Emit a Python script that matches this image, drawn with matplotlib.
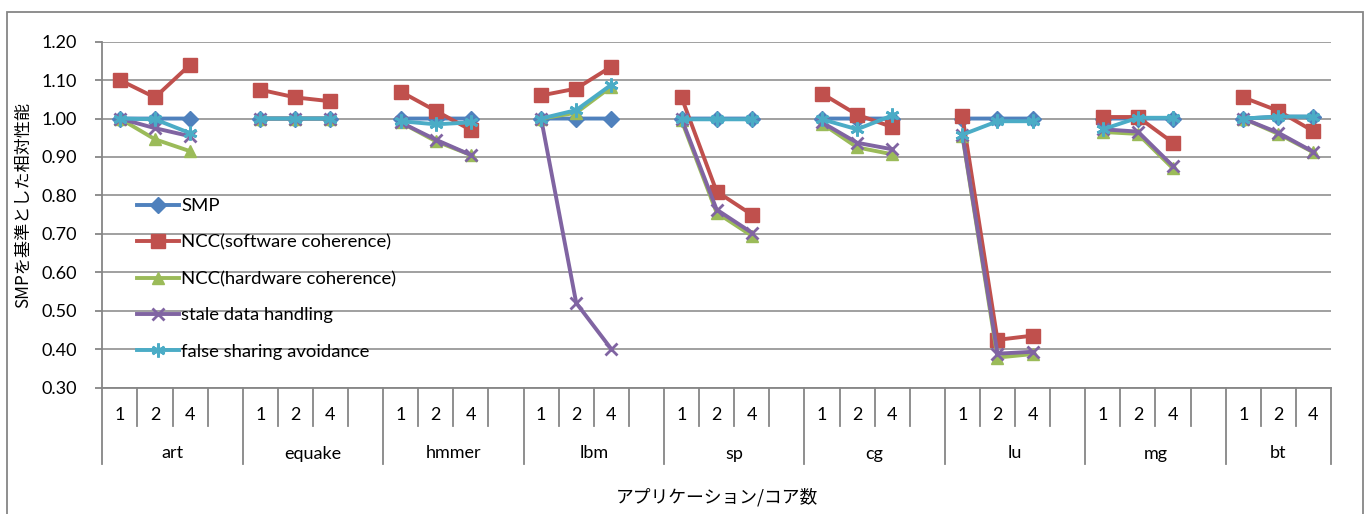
import numpy as np
import matplotlib
matplotlib.use("Agg")
import matplotlib.pyplot as plt
from matplotlib.patches import Rectangle

plt.rcParams['font.family'] = ['Lato', 'Noto Sans CJK JP', 'DejaVu Sans']

apps = ["art", "equake", "hmmer", "lbm", "sp", "cg", "lu", "mg", "bt"]
cores = ["1", "2", "4"]

smp = [[1.00, 1.00, 1.00], [1.00, 1.00, 1.00], [1.00, 1.00, 1.00],
       [1.00, 1.00, 1.00], [1.00, 1.00, 1.00], [1.00, 1.00, 1.00],
       [1.00, 1.00, 1.00], [1.00, 1.00, 1.00], [1.00, 1.005, 1.005]]
ncc_sw = [[1.10, 1.055, 1.14], [1.075, 1.055, 1.045], [1.07, 1.02, 0.97],
          [1.06, 1.078, 1.135], [1.055, 0.81, 0.75], [1.065, 1.01, 0.978],
          [1.007, 0.424, 0.435], [1.004, 1.004, 0.937], [1.055, 1.02, 0.967]]
ncc_hw = [[1.00, 0.946, 0.915], [1.00, 1.00, 1.00], [0.99, 0.941, 0.905],
          [1.00, 1.015, 1.083], [0.995, 0.755, 0.695], [0.987, 0.925, 0.907],
          [0.955, 0.378, 0.387], [0.965, 0.96, 0.87], [1.00, 0.96, 0.912]]
stale = [[1.00, 0.975, 0.954], [1.00, 1.00, 1.00], [0.99, 0.945, 0.905],
         [1.00, 0.52, 0.40], [1.00, 0.763, 0.703], [0.99, 0.937, 0.92],
         [0.958, 0.388, 0.393], [0.972, 0.966, 0.876], [1.00, 0.963, 0.913]]
fsa = [[1.00, 0.998, 0.962], [1.00, 1.00, 1.00], [0.993, 0.985, 0.99],
       [1.00, 1.022, 1.088], [0.998, 0.998, 0.998], [0.998, 0.972, 1.008],
       [0.958, 0.993, 0.993], [0.972, 1.002, 1.002], [1.00, 1.005, 1.005]]

series_names = ["SMP", "NCC(software coherence)", "NCC(hardware coherence)",
                "stale data handling", "false sharing avoidance"]
series_data = [smp, ncc_sw, ncc_hw, stale, fsa]
colors = ["#4F81BD", "#C0504D", "#9BBB59", "#8064A2", "#4BACC6"]
markers = ["D", "s", "^", "x", (6, 2, 0)]
msizes = [8, 10, 9, 9, 10]

y_ticks = [0.30, 0.40, 0.50, 0.60, 0.70, 0.80, 0.90, 1.00, 1.10, 1.20]

# flatten into slots: 1,2,4,(gap) per app, no gap after last
def flatten(groups):
    out = []
    for gi, g in enumerate(groups):
        out.extend(g)
        if gi < len(groups) - 1:
            out.append(np.nan)
    return np.array(out, dtype=float)

n_slots = len(apps) * (len(cores) + 1) - 1
xpos = np.arange(n_slots) + 0.5

W, H = 1365, 514
fig = plt.figure(figsize=(W / 100, H / 100), dpi=100)
ax = fig.add_axes([102.3 / W, 1 - 387.5 / H, (1331 - 102.3) / W, (387.5 - 41.7) / H])

grid_c = "#A0A0A0"
axis_c = "#868686"
FS = 13

for name, data, c, m, ms in zip(series_names, series_data, colors, markers, msizes):
    y = flatten(data)
    mew = 2.0 if m in ("x",) or isinstance(m, tuple) else 1.0
    ax.plot(xpos, y, color=c, lw=2.8, marker=m, markersize=ms,
            markerfacecolor=c, markeredgecolor=c, markeredgewidth=mew,
            label=name, solid_joinstyle="round", clip_on=False)

ax.set_xlim(0, n_slots)
ax.set_ylim(0.30, 1.20)
ax.set_yticks(y_ticks)
ax.set_yticklabels([f"{v:.2f}" for v in y_ticks], fontsize=FS)
ax.tick_params(axis="y", length=5, width=1.3, color=axis_c, pad=13, direction="out")
ax.set_xticks([])
ax.yaxis.grid(True, color=grid_c, lw=1.4)
ax.set_axisbelow(True)
for s in ["top", "right"]:
    ax.spines[s].set_visible(False)
ax.spines["left"].set_color(axis_c)
ax.spines["left"].set_linewidth(1.3)
ax.spines["bottom"].set_color(axis_c)
ax.spines["bottom"].set_linewidth(1.3)

# hierarchical category axis
tr = ax.get_xaxis_transform()
ah = 387.5 - 41.7
short_y = -38 / ah
long_y = -76 / ah
num_y = -28 / ah
grp_y = -66 / ah
slot = 0
for gi, app in enumerate(apps):
    start = slot
    nslots = len(cores) + (1 if gi < len(apps) - 1 else 0)
    ax.plot([start, start], [0, long_y], transform=tr, color=axis_c, lw=1.3, clip_on=False)
    for k in range(nslots):
        if k > 0:
            ax.plot([start + k, start + k], [0, short_y], transform=tr, color=axis_c, lw=1.3, clip_on=False)
        if k < len(cores):
            ax.text(start + k + 0.5, num_y, cores[k], transform=tr, ha="center", va="center", fontsize=FS)
    ax.text(start + nslots / 2, grp_y, app, transform=tr, ha="center", va="center", fontsize=FS)
    slot += nslots
ax.plot([slot, slot], [0, long_y], transform=tr, color=axis_c, lw=1.3, clip_on=False)

ax.text(0.5, -110 / ah, "アプリケーション/コア数", transform=ax.transAxes, ha="center", va="center",
        fontsize=12.8, family=["Noto Sans CJK JP", "DejaVu Sans"])
fig.text(23 / W, 1 - 205 / H, "SMPを基準とした相対性能", rotation=90, ha="center", va="center",
         fontsize=12.3, family=["Noto Sans CJK JP", "DejaVu Sans"])

leg = ax.legend(loc="center left", bbox_to_anchor=(137 / W, 1 - 279 / H), bbox_transform=fig.transFigure,
                frameon=False, fontsize=13.3, handlelength=2.25, handletextpad=0.15,
                labelspacing=1.1, borderpad=0, borderaxespad=0)

fig.patches.append(Rectangle((7.3 / W, -0.02), (1363 - 7.3) / W, 1 - 11.7 / H + 0.02,
                             transform=fig.transFigure, fill=False, edgecolor=axis_c, lw=1.3))

fig.savefig("out.png", dpi=100, facecolor="white")
